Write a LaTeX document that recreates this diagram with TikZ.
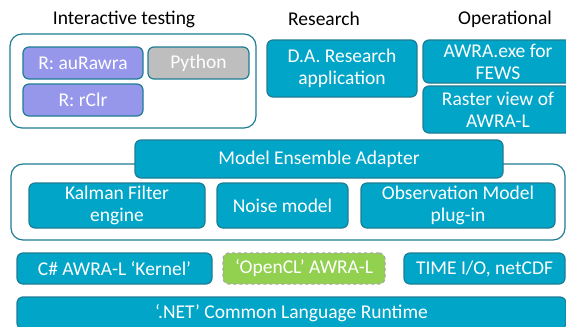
\documentclass[tikz,border=0pt]{standalone}
\usepackage{fontspec}
\setmainfont{Carlito}
\definecolor{teal1}{RGB}{0,165,200}
\definecolor{tealdk}{RGB}{30,125,148}
\definecolor{lilac}{RGB}{150,150,235}
\definecolor{greyb}{RGB}{190,190,190}
\definecolor{limeg}{RGB}{146,208,80}
\begin{document}
\begin{tikzpicture}[x=1pt,y=-1pt,
	box/.style={draw=tealdk,line width=1.2pt,fill=teal1,text=white,rounded corners=6pt,
		inner sep=0pt,align=center,font=\fontsize{19.5}{22}\selectfont},
	rbox/.style={box,fill=lilac},
	pybox/.style={box,fill=greyb},
	clbox/.style={box,fill=limeg,draw=gray!70,dashed},
	frame/.style={draw=tealdk,line width=1.2pt,rounded corners=12pt},
	head/.style={font=\fontsize{19.5}{22}\selectfont}]
	\clip (0,0) rectangle (566,327);
	% group frames
	\draw[frame] (10,34) rectangle (256,128);
	\draw[frame] (11,164) rectangle (565,240);
	% headings
	\node[head] (hint) at (124,19) {Interactive testing};
	\node[head] (hres) at (324,19) {Research};
	\node[head] (hops) at (505,19) {Operational};
	% interactive testing
	\node[rbox,minimum width=120,minimum height=32] (aurawra) at (83,63) {R: auRawra};
	\node[pybox,minimum width=101,minimum height=32] (python) at (198.5,63) {Python};
	\node[rbox,minimum width=120,minimum height=32] (rclr) at (83,100) {R: rClr};
	% research and operational
	\node[box,minimum width=150,minimum height=57] (dares) at (342,68.5) {D.A. Research\\application};
	\node[box,minimum width=150,minimum height=43] (awraexe) at (498,61.5) {AWRA.exe for\\FEWS};
	\node[box,minimum width=150,minimum height=47] (raster) at (498,109.5) {Raster view of\\AWRA-L};
	% ensemble adapter
	\node[box,minimum width=368,minimum height=38] (mea) at (319,159) {Model Ensemble Adapter};
	\node[box,minimum width=176,minimum height=45] (kalman) at (117,205.5) {Kalman Filter\\engine};
	\node[box,minimum width=131,minimum height=45] (noise) at (282.5,205.5) {Noise model};
	\node[box,minimum width=194,minimum height=45] (obs) at (458,205.5) {Observation Model\\plug-in};
	% kernels
	\node[box,minimum width=195,minimum height=31] (kernel) at (114.5,268.5) {C\# AWRA-L ‘Kernel’};
	\node[clbox,minimum width=162,minimum height=31] (opencl) at (304,268.5) {‘OpenCL’ AWRA-L};
	\node[box,minimum width=161,minimum height=31] (timeio) at (484.5,268.5) {TIME I/O, netCDF};
	\node[box,minimum width=549,minimum height=32] (clr) at (291.5,313) {‘.NET’ Common Language Runtime};
\end{tikzpicture}
\end{document}
